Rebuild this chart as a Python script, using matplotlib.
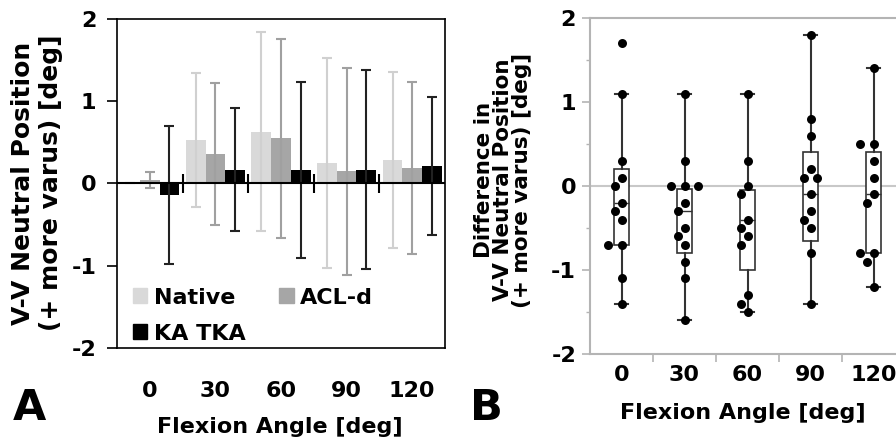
import numpy as np
import matplotlib
matplotlib.use("Agg")
import matplotlib.pyplot as plt
from matplotlib.patches import Patch

plt.rcParams['font.family'] = ['DejaVu Sans']
plt.rcParams['font.weight'] = 'bold'

# ---- data ----
angles = ['0', '30', '60', '90', '120']

# panel A: mean and SD per condition
native_mean = [0.0, 0.53, 0.63, 0.25, 0.29]
native_sd = [0.0, 0.81, 1.21, 1.28, 1.07]
acld_mean = [0.04, 0.36, 0.55, 0.15, 0.19]
acld_sd = [0.10, 0.86, 1.21, 1.26, 1.05]
katka_mean = [-0.14, 0.17, 0.17, 0.17, 0.21]
katka_sd = [0.84, 0.75, 1.07, 1.21, 0.84]

# panel B: individual differences and box summary
diff_0 = [1.7, 1.1, 0.3, 0.1, 0.0, -0.2, -0.3, -0.4, -0.7, -0.7, -1.1, -1.4]
diff_30 = [1.1, 0.3, 0.0, 0.0, 0.0, -0.2, -0.3, -0.5, -0.6, -0.7, -0.9, -1.1, -1.6]
diff_60 = [1.1, 0.3, 0.0, -0.1, -0.4, -0.5, -0.6, -0.7, -1.3, -1.4, -1.5]
diff_90 = [1.8, 0.8, 0.6, 0.2, 0.1, 0.1, -0.1, -0.3, -0.4, -0.5, -0.8, -1.4]
diff_120 = [1.4, 0.5, 0.5, 0.3, 0.1, -0.1, -0.2, -0.8, -0.8, -0.9, -1.2]

box_med = [-0.2, -0.3, -0.4, -0.1, -0.1]
box_q1 = [-0.7, -0.8, -1.0, -0.65, -0.8]
box_q3 = [0.2, -0.03, -0.05, 0.4, 0.4]
whisk_lo = [-1.4, -1.6, -1.5, -1.4, -1.2]
whisk_hi = [1.1, 1.1, 1.1, 1.8, 1.4]

W, H = 896, 443
fig = plt.figure(figsize=(W / 100, H / 100), dpi=100)


def fx(px):
    return px / W


def fy(py):
    return 1 - py / H


# ================= panel A =================
axA = fig.add_axes([fx(117), fy(348), fx(445 - 117), (348 - 19) / H])
x = np.arange(len(angles))
bw = 0.3
cols = ['#d9d9d9', '#a6a6a6', '#000000']
ecols = ['#d0d0d0', '#a0a0a0', '#222222']
series = [(native_mean, native_sd, 'Native'),
          (acld_mean, acld_sd, 'ACL-d'),
          (katka_mean, katka_sd, 'KA TKA')]
for i, (m, s, lab) in enumerate(series):
    xs = x + (i - 1) * bw
    axA.bar(xs, m, width=bw, color=cols[i], zorder=2)
    axA.errorbar(xs, m, yerr=s, fmt='none', ecolor=ecols[i],
                 elinewidth=1.5, capsize=3.5, capthick=1.5, zorder=3)

axA.axhline(0, color='black', lw=1.5, zorder=4)
axA.vlines(x[1:] - 0.5, -0.12, 0.12, color='black', lw=1.5, zorder=4)

axA.set_xlim(-0.5, 4.5)
axA.set_ylim(-2, 2)
axA.set_yticks([-2, -1, 0, 1, 2])
axA.set_yticklabels(['-2', '-1', '0', '1', '2'])
axA.set_xticks(x)
axA.set_xticklabels(angles)
axA.tick_params(axis='x', length=0, pad=24, labelsize=16)
axA.tick_params(axis='y', length=7, width=1.2, pad=8, labelsize=16)
for sp in axA.spines.values():
    sp.set_linewidth(1.2)

handles = [Patch(color=cols[0], label='Native'),
           Patch(color=cols[2], label='KA TKA'),
           Patch(color=cols[1], label='ACL-d')]
axA.legend(handles=handles, ncol=2, loc='lower left', bbox_to_anchor=(0.035, 0.0),
           frameon=False, fontsize=16, handlelength=0.65, handleheight=0.65,
           handletextpad=0.3, columnspacing=1.5, labelspacing=0.72,
           borderaxespad=0.0, borderpad=0.2)

fig.text(fx(37), fy(183), 'V-V Neutral Position\n(+ more varus) [deg]',
         rotation=90, ha='center', va='center', fontsize=18,
         fontweight='bold', linespacing=1.22)
fig.text(fx(280), fy(427), 'Flexion Angle [deg]', ha='center', va='center',
         fontsize=16, fontweight='bold')
fig.text(fx(29), fy(408), 'A', ha='center', va='center', fontsize=31,
         fontweight='heavy')

# ================= panel B =================
axB = fig.add_axes([fx(590), fy(354), fx(905 - 590), (354 - 18) / H])
gray = '#b4b4b4'

stats = []
for i in range(len(angles)):
    stats.append({'med': box_med[i], 'q1': box_q1[i], 'q3': box_q3[i],
                  'whislo': whisk_lo[i], 'whishi': whisk_hi[i], 'fliers': []})
axB.bxp(stats, positions=x, widths=0.24, showfliers=False, capwidths=0.2,
        patch_artist=True,
        boxprops=dict(facecolor='white', edgecolor='#333333', linewidth=1.2),
        whiskerprops=dict(color='#333333', linewidth=1.5),
        capprops=dict(color='#333333', linewidth=1.5),
        medianprops=dict(color='#333333', linewidth=1.0))


def swarm(vals, step=0.11, thr=9.5, px_x=63.0, px_y=84.0):
    # simple beeswarm: shift a dot sideways if it would overlap an earlier one
    placed = []
    offs = []
    for v in vals:
        dx = 0.0
        for k in [0, -1, 1, -2, 2, -3, 3]:
            dx = k * step
            ok = all(((dx - ox) * px_x) ** 2 + ((v - oy) * px_y) ** 2 >= thr ** 2
                     for ox, oy in placed)
            if ok:
                break
        placed.append((dx, v))
        offs.append(dx)
    return np.array(offs)


groups = [diff_0, diff_30, diff_60, diff_90, diff_120]
for i, g in enumerate(groups):
    g = np.array(g)
    axB.scatter(i + swarm(g), g, s=42, color='black', zorder=5, linewidths=0)

axB.axhline(0, color='#c8c8c8', lw=1.5, zorder=0)
axB.set_xlim(-0.5, 4.5)
axB.set_ylim(-2, 2)
axB.set_yticks([-2, -1, 0, 1, 2])
axB.set_yticklabels(['-2', '-1', '0', '1', '2'])
axB.set_yticks([-1.5, -0.5, 0.5, 1.5], minor=True)
axB.set_xticks(x)
axB.set_xticklabels(angles)
axB.set_xticks(x[1:] - 0.5, minor=True)
axB.tick_params(axis='x', which='major', length=0, pad=8, labelsize=16)
axB.tick_params(axis='x', which='minor', length=6, width=1.2, color=gray)
axB.tick_params(axis='y', which='major', length=6, width=1.2, color=gray,
                pad=4, labelsize=16)
axB.tick_params(axis='y', which='minor', length=3, width=1.0, color=gray)
axB.spines['right'].set_visible(False)
for k in ['left', 'bottom', 'top']:
    axB.spines[k].set_color(gray)
    axB.spines[k].set_linewidth(1.5)

fig.text(fx(503), fy(180), 'Difference in\nV-V Neutral Position\n(+ more varus) [deg]',
         rotation=90, ha='center', va='center', fontsize=15.5,
         fontweight='bold', linespacing=0.93)
fig.text(fx(743), fy(413), 'Flexion Angle [deg]', ha='center', va='center',
         fontsize=16, fontweight='bold')
fig.text(fx(486), fy(408), 'B', ha='center', va='center', fontsize=31,
         fontweight='heavy')

fig.savefig('out.png', dpi=100)
